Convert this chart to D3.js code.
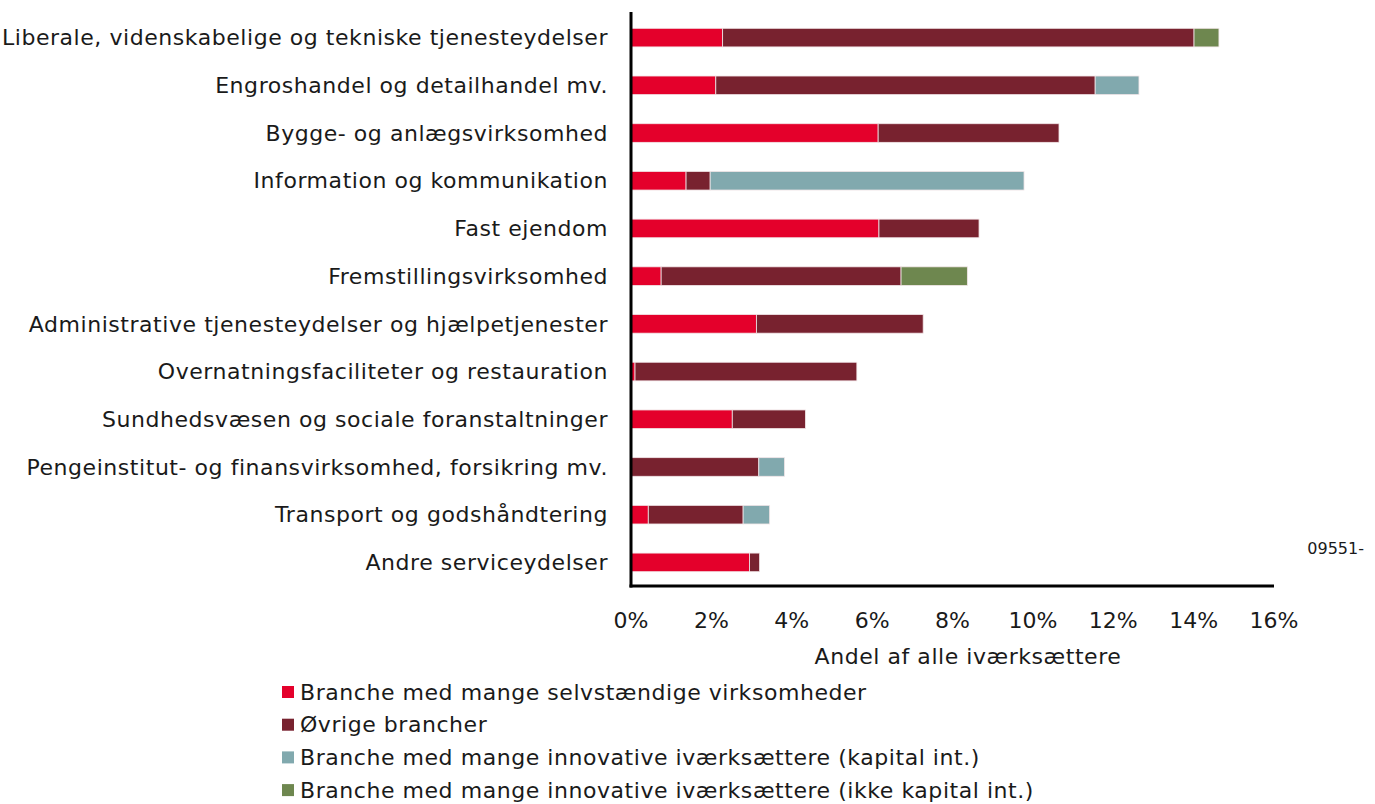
<!DOCTYPE html>
<html>
<head>
<meta charset="utf-8">
<script src="https://cdn.jsdelivr.net/npm/d3@7"></script>
<style>
  body { margin: 0; background: #fff; }
  svg text { font-family: "DejaVu Sans", sans-serif; fill: #1a1a1a; }
</style>
</head>
<body>
<svg width="1375" height="804"></svg>
<script>
// categories, top to bottom
var categories = [
  "Liberale, videnskabelige og tekniske tjenesteydelser",
  "Engroshandel og detailhandel mv.",
  "Bygge- og anlægsvirksomhed",
  "Information og kommunikation",
  "Fast ejendom",
  "Fremstillingsvirksomhed",
  "Administrative tjenesteydelser og hjælpetjenester",
  "Overnatningsfaciliteter og restauration",
  "Sundhedsvæsen og sociale foranstaltninger",
  "Pengeinstitut- og finansvirksomhed, forsikring mv.",
  "Transport og godshåndtering",
  "Andre serviceydelser"
];

// shares in percent
var selvstaendige = [2.28, 2.11, 6.15, 1.37, 6.17, 0.75, 3.12, 0.1, 2.52, 0, 0.43, 2.95];
var oevrige       = [11.73, 9.44, 4.50, 0.60, 2.49, 5.97, 4.15, 5.52, 1.82, 3.18, 2.36, 0.25];
var innoKapital   = [0, 1.09, 0, 7.81, 0, 0, 0, 0, 0, 0.64, 0.66, 0];
var innoIkkeKap   = [0.62, 0, 0, 0, 0, 1.65, 0, 0, 0, 0, 0, 0];

var seriesNames = [
  "Branche med mange selvstændige virksomheder",
  "Øvrige brancher",
  "Branche med mange innovative iværksættere (kapital int.)",
  "Branche med mange innovative iværksættere (ikke kapital int.)"
];
var colors = ["#e4002b", "#78222f", "#81a9ae", "#6e874f"];
var xTicks = [0, 2, 4, 6, 8, 10, 12, 14, 16];

var rows = categories.map(function(c, i) {
  return { cat: c, s0: selvstaendige[i], s1: oevrige[i], s2: innoKapital[i], s3: innoIkkeKap[i] };
});
var keys = ["s0", "s1", "s2", "s3"];

var svg = d3.select("svg");
var m = { left: 631, right: 1274, top: 14, bottom: 586 };
var fs = 22, ls = 0.55;

var x = d3.scaleLinear().domain([0, 16]).range([m.left, m.right]);
var y = d3.scaleBand().domain(categories).range([m.top, m.bottom]).paddingInner(0.61).paddingOuter(0.3);

var stacked = d3.stack().keys(keys)(rows);

svg.append("g").selectAll("g")
  .data(stacked)
  .enter().append("g")
  .attr("fill", function(d, i) { return colors[i]; })
  .selectAll("rect")
  .data(function(d) { return d.filter(function(e) { return e[1] - e[0] > 0; }); })
  .enter().append("rect")
  .attr("x", function(d) { return x(d[0]); })
  .attr("width", function(d) { return x(d[1]) - x(d[0]); })
  .attr("y", function(d) { return y(d.data.cat); })
  .attr("height", y.bandwidth())
  .attr("stroke", "#f2e6e8")
  .attr("stroke-width", 0.8);

// category labels
svg.append("g").selectAll("text")
  .data(categories)
  .enter().append("text")
  .attr("x", 608)
  .attr("y", function(d) { return y(d) + y.bandwidth() / 2; })
  .attr("dy", "0.35em")
  .attr("text-anchor", "end")
  .attr("font-size", fs)
  .attr("letter-spacing", ls)
  .text(function(d) { return d; });

// axes lines
svg.append("line")
  .attr("x1", m.left).attr("x2", m.left).attr("y1", 12).attr("y2", m.bottom + 1.5)
  .attr("stroke", "#000").attr("stroke-width", 3);
svg.append("line")
  .attr("x1", m.left - 1.5).attr("x2", m.right).attr("y1", m.bottom).attr("y2", m.bottom)
  .attr("stroke", "#000").attr("stroke-width", 3);

// tick labels
svg.append("g").selectAll("text")
  .data(xTicks)
  .enter().append("text")
  .attr("x", function(d) { return x(d); })
  .attr("y", 620)
  .attr("dy", "0.35em")
  .attr("text-anchor", "middle")
  .attr("font-size", fs)
  .text(function(d) { return d + "%"; });

svg.append("text")
  .attr("x", 968).attr("y", 656).attr("dy", "0.35em")
  .attr("text-anchor", "middle")
  .attr("font-size", fs)
  .attr("letter-spacing", ls)
  .text("Andel af alle iværksættere");

svg.append("text")
  .attr("x", 1364).attr("y", 548).attr("dy", "0.35em")
  .attr("text-anchor", "end")
  .attr("font-size", 16)
  .text("09551-");

// legend
var legend = svg.append("g").selectAll("g")
  .data(seriesNames)
  .enter().append("g")
  .attr("transform", function(d, i) { return "translate(282," + (692 + i * 32.7) + ")"; });
legend.append("rect")
  .attr("x", 0).attr("y", -6).attr("width", 12).attr("height", 12)
  .attr("fill", function(d, i) { return colors[i]; });
legend.append("text")
  .attr("x", 18).attr("dy", "0.35em")
  .attr("font-size", fs)
  .attr("letter-spacing", ls)
  .text(function(d) { return d; });
</script>
</body>
</html>
